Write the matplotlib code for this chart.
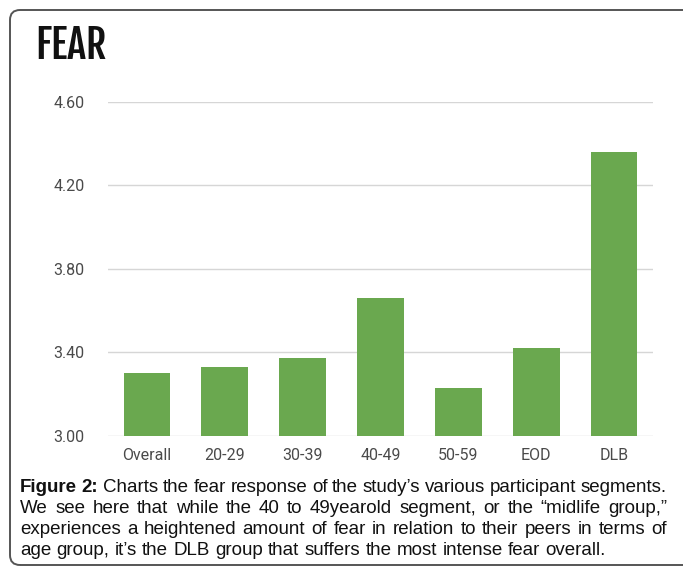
import matplotlib
matplotlib.use("Agg")
import matplotlib.pyplot as plt
from matplotlib.patches import FancyBboxPatch

categories = ["Overall", "20-29", "30-39", "40-49", "50-59", "EOD", "DLB"]
fear_scores = [3.30, 3.33, 3.37, 3.66, 3.23, 3.42, 4.36]
y_ticks = [3.00, 3.40, 3.80, 4.20, 4.60]

caption_lines = [
    "Figure 2: Charts the fear response of the study\u2019s various participant segments.",
    "We see here that while the 40 to 49yearold segment, or the \u201cmidlife group,\u201d",
    "experiences a heightened amount of fear in relation to their peers in terms of",
    "age group, it\u2019s the DLB group that suffers the most intense fear overall.",
]

W, H = 683, 566
fig = plt.figure(figsize=(W / 100, H / 100), dpi=100)

# rounded frame around chart + caption (runs off the right edge)
frame = FancyBboxPatch((0.10, 0.01), 7.5, 5.56 - 0.01,
                       boxstyle="round,pad=0,rounding_size=0.10",
                       transform=fig.dpi_scale_trans, fill=False,
                       edgecolor="#555555", linewidth=1.4)
fig.patches.append(frame)

# title
fig.text(35 / W, 1 - 59 / H, "FEAR", fontsize=29, fontweight="bold",
         family=["Fjalla One", "Roboto Condensed", "DejaVu Sans"], color="#111111",
         ha="left", va="baseline")

ax = fig.add_axes([108 / W, 1 - 435.5 / H, 545 / W, 333.8 / H])
ax.bar(categories, fear_scores, width=0.6, color="#6aa84f", zorder=2)
ax.set_xlim(-0.5, len(categories) - 0.5)
ax.set_ylim(y_ticks[0], y_ticks[-1])
ax.set_yticks(y_ticks)
ax.set_yticklabels([f"{v:.2f}" for v in y_ticks])
ax.grid(axis="y", color="#d6d6d6", linewidth=1, zorder=0)
for s in ax.spines.values():
    s.set_visible(False)
ax.tick_params(length=0, colors="#4a4a4a", labelsize=11.5)
ax.tick_params(axis="y", pad=17)
ax.tick_params(axis="x", pad=9)
for lab in ax.get_xticklabels() + ax.get_yticklabels():
    lab.set_family(["Roboto", "DejaVu Sans"])

# caption, justified except the last line
renderer = fig.canvas.get_renderer()
left, right = 20, 667
baselines = [492, 513, 534, 555]
cap_size = 13.5
cap_font = ["Liberation Sans", "DejaVu Sans"]


def text_width(s, **kw):
    t = fig.text(0, 0, s, fontsize=cap_size, family=cap_font, **kw)
    w = t.get_window_extent(renderer).width
    t.remove()
    return w


space_w = text_width("a a") - text_width("aa")

for i, line in enumerate(caption_lines):
    words = line.split(" ")
    texts = []
    for j, w in enumerate(words):
        bold = i == 0 and j < 2
        t = fig.text(0, 1 - baselines[i] / H, w, fontsize=cap_size,
                     family=cap_font,
                     fontweight="bold" if bold else "normal",
                     color="#111111", ha="left", va="baseline")
        texts.append(t)
    widths = [t.get_window_extent(renderer).width for t in texts]
    if i < len(caption_lines) - 1:
        gap = (right - left - sum(widths)) / (len(words) - 1)
    else:
        gap = space_w
    x = left
    for t, wd in zip(texts, widths):
        t.set_x(x / W)
        x += wd + gap

fig.savefig("out.png", dpi=100)
